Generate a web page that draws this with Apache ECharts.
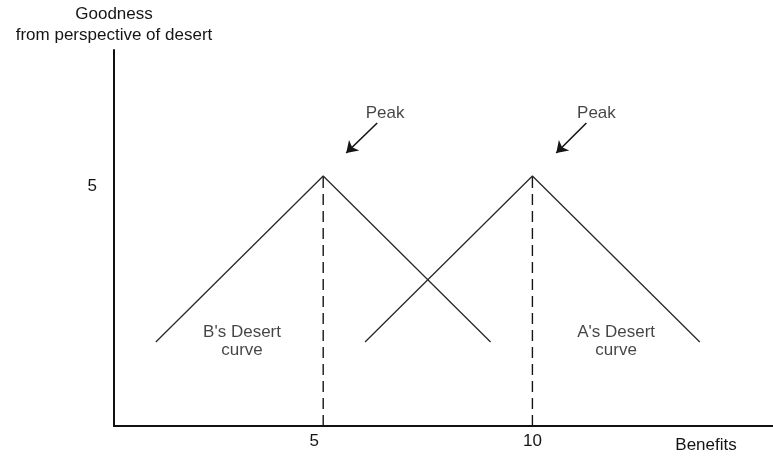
<!DOCTYPE html>
<html>
<head>
<meta charset="utf-8">
<script src="https://cdn.jsdelivr.net/npm/echarts@6/dist/echarts.min.js"></script>
<style>
  html, body { margin: 0; padding: 0; background: #fff; }
  #chart { width: 773px; height: 456px; }
</style>
</head>
<body>
<div id="chart"></div>
<script>
// desert curves: [benefits, goodness]
var curveB = [[1, 1.68], [5, 5], [9, 1.68]];
var curveA = [[6, 1.68], [10, 5], [14, 1.68]];
var peaks = [[5, 5], [10, 5]];
var xTickLabels = [5, 10];
var yTickLabels = [5];
// "Peak" annotations: label point, arrow start, arrow tip
var peakLabels = [[6.48, 6.26], [11.53, 6.26]];
var arrowStarts = [[6.29, 6.06], [11.29, 6.06]];
var arrowTips = [[5.55, 5.46], [10.57, 5.46]];
var curveLabels = ["B's Desert\ncurve", "A's Desert\ncurve"];
var curveLabelPos = [[3.06, 1.7], [12.0, 1.7]];

var font = 'Liberation Sans, Arial, sans-serif';
var ink = '#151515';

var series = [
  {
    type: 'line', data: curveB, symbol: 'none', silent: true,
    lineStyle: { color: '#2a2a2a', width: 1.3 }
  },
  {
    type: 'line', data: curveA, symbol: 'none', silent: true,
    lineStyle: { color: '#2a2a2a', width: 1.3 }
  }
];

peaks.forEach(function (p) {
  series.push({
    type: 'line', data: [[p[0], 0], p], symbol: 'none', silent: true,
    lineStyle: { color: ink, width: 1.4, type: [11, 6] }
  });
});

series.push({
  type: 'lines', coordinateSystem: 'cartesian2d', silent: true,
  symbol: ['none', 'arrow'], symbolSize: 11,
  lineStyle: { color: ink, width: 1.6, opacity: 1 },
  data: arrowStarts.map(function (s, i) { return { coords: [s, arrowTips[i]] }; })
});

series.push({
  type: 'scatter', symbolSize: 0, silent: true,
  data: peakLabels,
  label: {
    show: true, position: 'inside', formatter: 'Peak',
    color: ink, fontSize: 17, fontFamily: font
  }
});

series.push({
  type: 'scatter', symbolSize: 0, silent: true,
  data: curveLabelPos.map(function (p, i) { return { value: p, name: curveLabels[i] }; }),
  label: {
    show: true, position: 'inside', formatter: '{b}',
    color: ink, fontSize: 17, lineHeight: 18, fontFamily: font
  }
});

var chart = echarts.init(document.getElementById('chart'));
chart.setOption({
  animation: false,
  grid: { left: 114, right: 0, top: 50, bottom: 30 },
  xAxis: {
    type: 'value', min: 0, max: 15.75, interval: 5,
    name: 'Benefits', nameLocation: 'end', nameGap: -67,
    nameTextStyle: {
      color: ink, fontSize: 17, fontFamily: font,
      align: 'center', verticalAlign: 'top', padding: [11, 0, 0, 0]
    },
    axisLine: { lineStyle: { color: '#111', width: 2 } },
    axisTick: { show: false },
    splitLine: { show: false },
    axisLabel: {
      margin: 7, color: ink, fontSize: 17, fontFamily: font,
      showMaxLabel: false, showMinLabel: false,
      formatter: function (v) {
        if (xTickLabels.indexOf(v) < 0) return '';
        return v === 5 ? '{a|' + v + '}' : '{b|' + v + '}';
      },
      rich: {
        a: { color: ink, fontSize: 17, fontFamily: font, padding: [0, 18, 0, 0] },
        b: { color: ink, fontSize: 17, fontFamily: font }
      }
    }
  },
  yAxis: {
    type: 'value', min: 0, max: 7.52, interval: 5,
    name: 'Goodness\nfrom perspective of desert', nameLocation: 'end', nameGap: 4,
    nameTextStyle: {
      color: ink, fontSize: 17, fontFamily: font, lineHeight: 21,
      align: 'center', verticalAlign: 'bottom'
    },
    axisLine: { show: true, lineStyle: { color: '#111', width: 2 } },
    axisTick: { show: false },
    splitLine: { show: false },
    axisLabel: {
      margin: 17, color: ink, fontSize: 17, fontFamily: font,
      showMaxLabel: false,
      formatter: function (v) { return yTickLabels.indexOf(v) < 0 ? '' : '{a|' + v + '}'; },
      rich: { a: { color: ink, fontSize: 17, fontFamily: font, padding: [21, 0, 0, 0] } }
    }
  },
  series: series
});
</script>
</body>
</html>
